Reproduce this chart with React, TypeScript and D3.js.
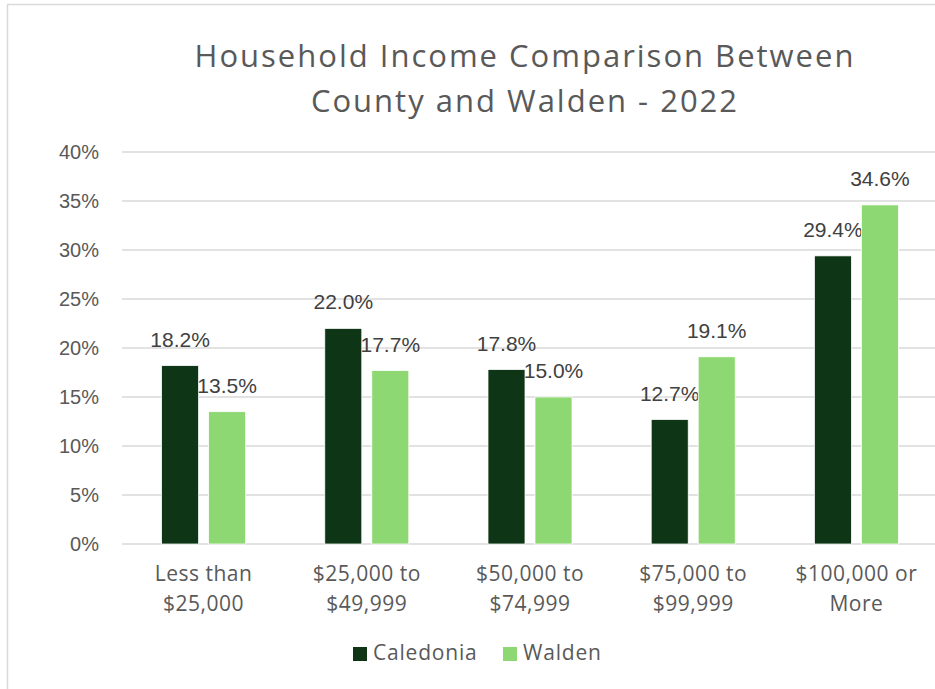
import React, { useEffect, useRef } from "react";
import * as d3 from "d3";

const categories = [
  ["Less than", "$25,000"],
  ["$25,000 to", "$49,999"],
  ["$50,000 to", "$74,999"],
  ["$75,000 to", "$99,999"],
  ["$100,000 or", "More"],
];
const seriesNames = ["Caledonia", "Walden"];
const caledonia = [18.2, 22.0, 17.8, 12.7, 29.4];
const walden = [13.5, 17.7, 15.0, 19.1, 34.6];
const yTicks = [0, 5, 10, 15, 20, 25, 30, 35, 40];
const colors = ["#0E3515", "#8ED873"];
const titleLines = ["Household Income Comparison Between", "County and Walden - 2022"];

const App = () => {
  const ref = useRef<SVGSVGElement>(null);

  useEffect(() => {
    const svg = d3.select(ref.current);
    svg.selectAll("*").remove();

    const width = 935;
    const height = 689;
    const left = 122;
    const right = 938;
    const top = 152;
    const bottom = 544;
    const labelFont = "'Liberation Sans', Arial, sans-serif";
    const uiFont = "'Open Sans', sans-serif";

    // outer chart frame
    svg
      .append("rect")
      .attr("x", 7.5)
      .attr("y", 4.5)
      .attr("width", width + 20)
      .attr("height", height + 20)
      .attr("fill", "#fff")
      .attr("stroke", "#D9D9D9")
      .attr("stroke-width", 1.5);

    const keys = categories.map((c) => c.join(" "));
    const x0 = d3.scaleBand().domain(keys).range([left, right]).padding(0);
    const groupW = 84;
    const x1 = d3
      .scaleBand()
      .domain(seriesNames)
      .range([0, groupW])
      .paddingInner(10 / 47);
    const y = d3.scaleLinear().domain([0, 40]).range([bottom, top]);

    // gridlines
    svg
      .append("g")
      .selectAll("line")
      .data(yTicks)
      .enter()
      .append("line")
      .attr("x1", left)
      .attr("x2", right)
      .attr("y1", (d) => y(d))
      .attr("y2", (d) => y(d))
      .attr("stroke", "#D9D9D9")
      .attr("stroke-width", 1.5);

    // y tick labels
    svg
      .append("g")
      .selectAll("text")
      .data(yTicks)
      .enter()
      .append("text")
      .attr("x", 99)
      .attr("y", (d) => y(d) + 7)
      .attr("text-anchor", "end")
      .attr("font-family", labelFont)
      .attr("font-size", 20)
      .attr("fill", "#595959")
      .text((d) => d + "%");

    const values = [caledonia, walden];
    const offset = (x0.bandwidth() - groupW) / 2;

    seriesNames.forEach((name, si) => {
      const g = svg.append("g");
      g.selectAll("rect")
        .data(values[si])
        .enter()
        .append("rect")
        .attr("x", (d, i) => (x0(keys[i]) as number) + offset + (x1(name) as number))
        .attr("y", (d) => y(d))
        .attr("width", x1.bandwidth())
        .attr("height", (d) => bottom - y(d))
        .attr("fill", colors[si])
        .attr("stroke", "#fff")
        .attr("stroke-width", 0.75);

      g.selectAll("text")
        .data(values[si])
        .enter()
        .append("text")
        .attr(
          "x",
          (d, i) => (x0(keys[i]) as number) + offset + (x1(name) as number) + x1.bandwidth() / 2
        )
        .attr("y", (d) => y(d) - 19)
        .attr("text-anchor", "middle")
        .attr("font-family", labelFont)
        .attr("font-size", 21)
        .attr("fill", "#404040")
        .text((d) => d.toFixed(1) + "%");
    });

    // category labels
    const cat = svg
      .append("g")
      .selectAll("text")
      .data(categories)
      .enter()
      .append("text")
      .attr("text-anchor", "middle")
      .attr("font-family", uiFont)
      .attr("font-size", 21)
      .attr("letter-spacing", 0.5)
      .attr("fill", "#595959");
    cat
      .selectAll("tspan")
      .data((d, i) => d.map((line) => ({ line, i })))
      .enter()
      .append("tspan")
      .attr("x", (d) => (x0(keys[d.i]) as number) + x0.bandwidth() / 2)
      .attr("y", (d, j) => 581 + j * 30)
      .text((d) => d.line);

    // title
    svg
      .append("g")
      .selectAll("text")
      .data(titleLines)
      .enter()
      .append("text")
      .attr("x", 525)
      .attr("y", (d, i) => 67 + i * 45)
      .attr("text-anchor", "middle")
      .attr("font-family", uiFont)
      .attr("font-size", 31)
      .attr("letter-spacing", 2)
      .attr("fill", "#595959")
      .text((d) => d);

    // legend
    const legendX = [353, 503];
    const lg = svg
      .append("g")
      .selectAll("g")
      .data(seriesNames)
      .enter()
      .append("g")
      .attr("transform", (d, i) => `translate(${legendX[i]},647)`);
    lg.append("rect")
      .attr("width", 14)
      .attr("height", 14)
      .attr("fill", (d, i) => colors[i]);
    lg.append("text")
      .attr("x", 20)
      .attr("y", 13)
      .attr("font-family", uiFont)
      .attr("font-size", 21)
      .attr("letter-spacing", 0.8)
      .attr("fill", "#595959")
      .text((d) => d);
  }, []);

  return (
    <svg
      ref={ref}
      width={935}
      height={689}
      style={{ position: "absolute", left: 0, top: 0, background: "#fff" }}
    ></svg>
  );
};

export default App;
